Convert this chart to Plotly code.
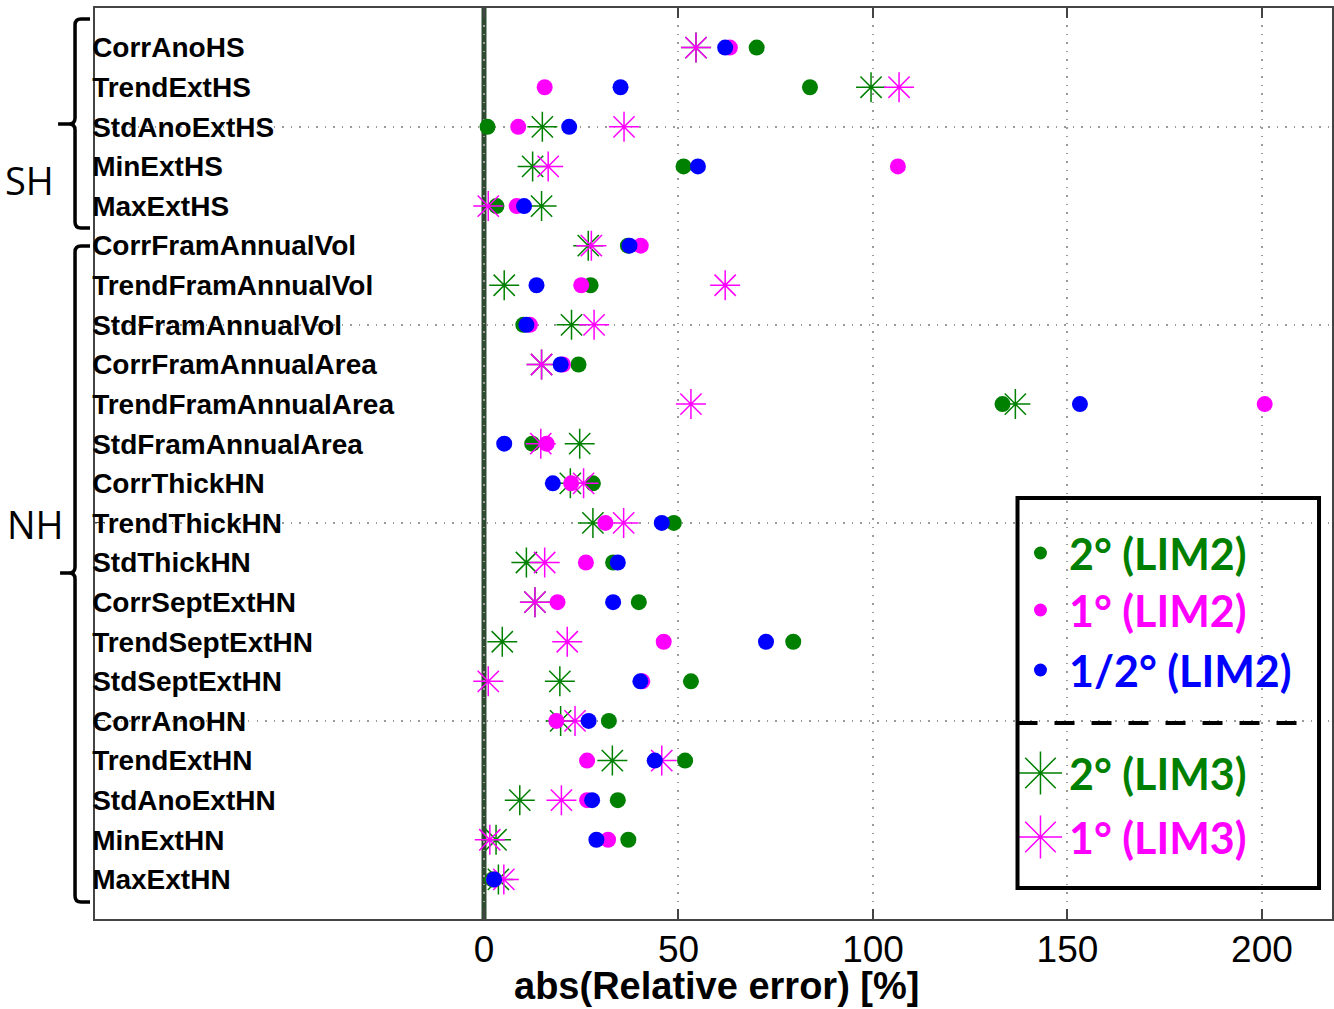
import plotly.graph_objects as go

# ---------------- data ----------------
categories = ["CorrAnoHS", "TrendExtHS", "StdAnoExtHS", "MinExtHS", "MaxExtHS",
              "CorrFramAnnualVol", "TrendFramAnnualVol", "StdFramAnnualVol",
              "CorrFramAnnualArea", "TrendFramAnnualArea", "StdFramAnnualArea",
              "CorrThickHN", "TrendThickHN", "StdThickHN", "CorrSeptExtHN",
              "TrendSeptExtHN", "StdSeptExtHN", "CorrAnoHN", "TrendExtHN",
              "StdAnoExtHN", "MinExtHN", "MaxExtHN"]

lim2_2deg = [70.1, 83.8, 0.9, 51.3, 3.2, 37.0, 27.4, 10.1, 24.3, 133.3, 12.4,
             28.0, 48.8, 33.2, 39.8, 79.5, 53.2, 32.1, 51.7, 34.4, 37.1, 2.2]
lim2_1deg = [63.2, 15.6, 8.8, 106.4, 8.4, 40.3, 25.0, 11.8, 20.3, 200.7, 16.1,
             22.4, 31.2, 26.2, 18.9, 46.2, 40.7, 18.6, 26.5, 26.5, 31.9, 2.6]
lim2_half = [62.0, 35.1, 21.9, 55.0, 10.3, 37.4, 13.5, 10.9, 19.7, 153.2, 5.2,
             17.7, 45.7, 34.4, 33.2, 72.5, 40.2, 26.9, 43.9, 27.8, 28.9, 2.6]
lim3_2deg = [54.5, 99.5, 15.0, 12.5, 14.8, 26.8, 5.2, 22.5, 14.8, 136.6, 24.6,
             22.2, 28.0, 10.9, 13.1, 4.7, 19.5, 19.7, 33.0, 9.2, 3.1, 3.7]
lim3_1deg = [54.5, 106.7, 36.0, 16.5, 1.1, 27.6, 62.0, 28.3, 14.8, 53.2, 14.6,
             25.6, 35.9, 15.6, 13.1, 21.4, 1.1, 23.4, 45.7, 19.9, 1.5, 5.1]

x_tickvals = [-100, -50, 0, 50, 100, 150, 200]
x_ticktext = ["", "", "0", "50", "100", "150", "200"]
x_title = "abs(Relative error) [%]"
legend_labels = ["2° (LIM2)", "1° (LIM2)", "1/2° (LIM2)", "2° (LIM3)", "1° (LIM3)"]
group_labels = ["SH", "NH"]

GREEN = "#008000"
MAGENTA = "#FF00FF"
BLUE = "#0000FF"

n = len(categories)
ypos = list(range(n, 0, -1))  # top category highest

fig = go.Figure()

CIRCLE_SIZE = 16
AST_SIZE = 25


def circ(vals, color, name):
    fig.add_trace(go.Scatter(x=vals, y=ypos, mode="markers", name=name,
                             marker=dict(symbol="circle", size=CIRCLE_SIZE, color=color,
                                         line=dict(width=0))))


def ast(vals, color, name):
    fig.add_trace(go.Scatter(x=vals, y=ypos, mode="markers", name=name,
                             marker=dict(symbol="asterisk-open", size=AST_SIZE,
                                         color=color, line=dict(width=1.5, color=color))))


circ(lim2_2deg, GREEN, legend_labels[0])
ast(lim3_2deg, GREEN, legend_labels[3])
circ(lim2_1deg, MAGENTA, legend_labels[1])
ast(lim3_1deg, MAGENTA, legend_labels[4])
circ(lim2_half, BLUE, legend_labels[2])

# ---------------- geometry helpers (pixel -> paper) ----------------
L, R, T, B = 95, 1334, 8, 919
W, H = 1334, 1009


def px(x):
    return (x - L) / (R - L)


def py(y):
    return (B - y) / (B - T)


def brace(top, tip, bottom, xv=75, xend=90, xtip=58, rc=6):
    pts = [
        ("M", [(xend, top)]), ("L", [(xv + rc, top)]), ("Q", [(xv, top), (xv, top + rc)]),
        ("L", [(xv, tip - rc)]), ("Q", [(xv, tip), (xv - rc, tip)]), ("L", [(xtip, tip)]),
        ("M", [(xv - rc, tip)]), ("Q", [(xv, tip), (xv, tip + rc)]),
        ("L", [(xv, bottom - rc)]), ("Q", [(xv, bottom), (xv + rc, bottom)]),
        ("L", [(xend, bottom)]),
    ]
    s = ""
    for cmd, ps in pts:
        s += cmd + " " + " ".join(f"{px(a):.5f},{py(b):.5f}" for a, b in ps) + " "
    return s.strip()


shapes = []
# zero reference line
shapes.append(dict(type="line", xref="x", yref="paper", x0=0, x1=0, y0=0, y1=1,
                   line=dict(color="#2e4a30", width=5), layer="between"))
# braces
shapes.append(dict(type="path", xref="paper", yref="paper", path=brace(19, 124, 228),
                   line=dict(color="black", width=3.5)))
shapes.append(dict(type="path", xref="paper", yref="paper", path=brace(246, 573, 902, xtip=60),
                   line=dict(color="black", width=3.5)))
# legend box and separator (in pixel-space overlay axes)
shapes.append(dict(type="rect", xref="x2", yref="y2", x0=1019, x1=1321, y0=498, y1=888,
                   line=dict(color="black", width=4), fillcolor="rgba(0,0,0,0)"))
shapes.append(dict(type="line", xref="x2", yref="y2", x0=1019, x1=1305, y0=723, y1=723,
                   line=dict(color="black", width=4, dash="20px,17px")))

annotations = []
annotations.append(dict(text=group_labels[0], xref="paper", yref="paper", x=px(29), y=py(180),
                        showarrow=False, font=dict(family="Open Sans", size=38, color="black"),
                        xanchor="center", yanchor="middle"))
annotations.append(dict(text=group_labels[1], xref="paper", yref="paper", x=px(35), y=py(524),
                        showarrow=False, font=dict(family="Open Sans", size=38, color="black"),
                        xanchor="center", yanchor="middle"))
annotations.append(dict(text=f"<b>{x_title}</b>", xref="paper", yref="paper",
                        x=px(718), y=py(986), showarrow=False,
                        xanchor="center", yanchor="middle",
                        font=dict(family="Liberation Sans", size=38, color="black")))

# legend entries
leg_y = [553, 610, 670, 773, 837]
leg_colors = [GREEN, MAGENTA, BLUE, GREEN, MAGENTA]
leg_sym = ["circle", "circle", "circle", "asterisk-open", "asterisk-open"]
for lab, yy, c, s in zip(legend_labels, leg_y, leg_colors, leg_sym):
    fig.add_trace(go.Scatter(x=[1042], y=[yy], xaxis="x2", yaxis="y2", mode="markers",
                             hoverinfo="skip",
                             marker=dict(symbol=s, size=13 if s == "circle" else 36, color=c,
                                         line=dict(width=1.5 if s != "circle" else 0, color=c))))
    annotations.append(dict(text=f"<b>{lab}</b>", xref="x2", yref="y2", x=1069, y=yy,
                            showarrow=False, xanchor="left", yanchor="middle",
                            font=dict(family="Lato", size=43, color=c)))

AXC = "#444444"
GRIDC = "#9a9a9a"
fig.update_layout(
    width=W, height=H,
    margin=dict(l=L, r=W - R, t=T, b=H - B),
    plot_bgcolor="white", paper_bgcolor="white",
    showlegend=False,
    shapes=shapes, annotations=annotations,
    xaxis=dict(range=[-100, 218], tickvals=x_tickvals, ticktext=x_ticktext,
               ticks="inside", ticklen=10, tickcolor=AXC, tickwidth=1.5,
               showline=True, linecolor=AXC, linewidth=1.5, mirror="ticks",
               showgrid=True, gridcolor=GRIDC, gridwidth=1.5, griddash="1.5px,7px",
               zeroline=False, ticklabelstandoff=-3,
               tickfont=dict(family="Liberation Sans", size=37, color="black")),
    yaxis=dict(range=[0, 23], tickvals=ypos, ticktext=categories, ticks="",
               ticklabelposition="inside",
               showline=True, linecolor=AXC, linewidth=1.5, mirror=True,
               showgrid=False, zeroline=False,
               tickfont=dict(family="Liberation Sans", size=28, color="black", weight="bold"),
               minor=dict(tickvals=[5, 10, 15, 20], ticks="inside", ticklen=10,
                          tickcolor=AXC, showgrid=True, gridcolor=GRIDC, gridwidth=1.5,
                          griddash="1.5px,7px")),
    xaxis2=dict(range=[L, R], overlaying="x", visible=False, fixedrange=True),
    yaxis2=dict(range=[B, T], overlaying="y", visible=False, fixedrange=True),
)

fig.write_html("out.html", config={"displayModeBar": False},
               post_script="document.body.style.margin='0px';document.body.style.overflow='hidden';")
